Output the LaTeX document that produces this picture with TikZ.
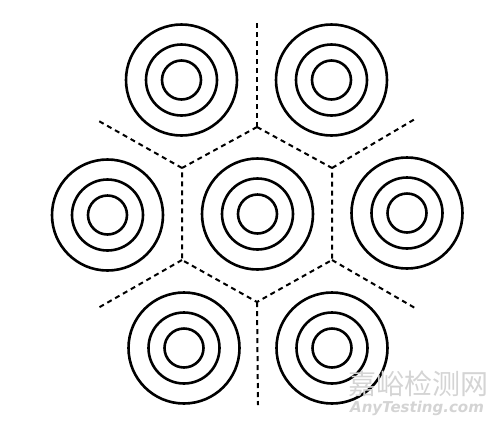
\documentclass[tikz,border=0pt]{standalone}
\usepackage{fontspec}
\newfontfamily\cjkfont{Noto Sans CJK SC}
\newfontfamily\latinfont{DejaVu Sans}

\begin{document}
\begin{tikzpicture}[
  x=1pt, y=-1pt,
  ring/.style={draw, circle, line width=2.6pt, inner sep=0pt},
  outerring/.style={ring, minimum size=111pt},
  midring/.style={ring, minimum size=71pt},
  innerring/.style={ring, minimum size=39pt},
  border/.style={line width=2pt, dash pattern=on 5pt off 4pt},
  wmark/.style={text=black!17, inner sep=0pt}
]
\useasboundingbox (0,0) rectangle (500,424);

% seven sets of rings
\foreach \name/\x/\y in {tl/181.5/80, tr/331.5/80, ml/107.5/215, mc/257.5/214,
                         mr/407/213, bl/184/348, br/332/348} {
  \node[outerring] (\name) at (\x,\y) {};
  \node[midring] at (\name) {};
  \node[innerring] at (\name) {};
}

% hexagon round the middle one
\coordinate (ht) at (257,127);
\coordinate (hul) at (182,168);
\coordinate (hur) at (332,168);
\coordinate (hll) at (182,260);
\coordinate (hlr) at (332,260);
\coordinate (hb) at (257,302);
% free ends of the spokes
\coordinate (et) at (257,23);
\coordinate (eul) at (97,120);
\coordinate (eur) at (415,119);
\coordinate (ell) at (98,308);
\coordinate (elr) at (415,308);
\coordinate (eb) at (258,405);

\draw[border] (ht) -- (hur) -- (hlr) -- (hb) -- (hll) -- (hul) -- cycle;
\draw[border] (ht) -- (et);
\draw[border] (hul) -- (eul);
\draw[border] (hur) -- (eur);
\draw[border] (hll) -- (ell);
\draw[border] (hlr) -- (elr);
\draw[border] (hb) -- (eb);

% watermark
\node[wmark, font=\cjkfont\fontsize{28}{28}\selectfont] (wmcn) at (418,384) {嘉峪检测网};
\node[wmark, font=\latinfont\bfseries\itshape\fontsize{15}{15}\selectfont] (wmen) at (417,408) {AnyTesting.com};
\end{tikzpicture}
\end{document}
